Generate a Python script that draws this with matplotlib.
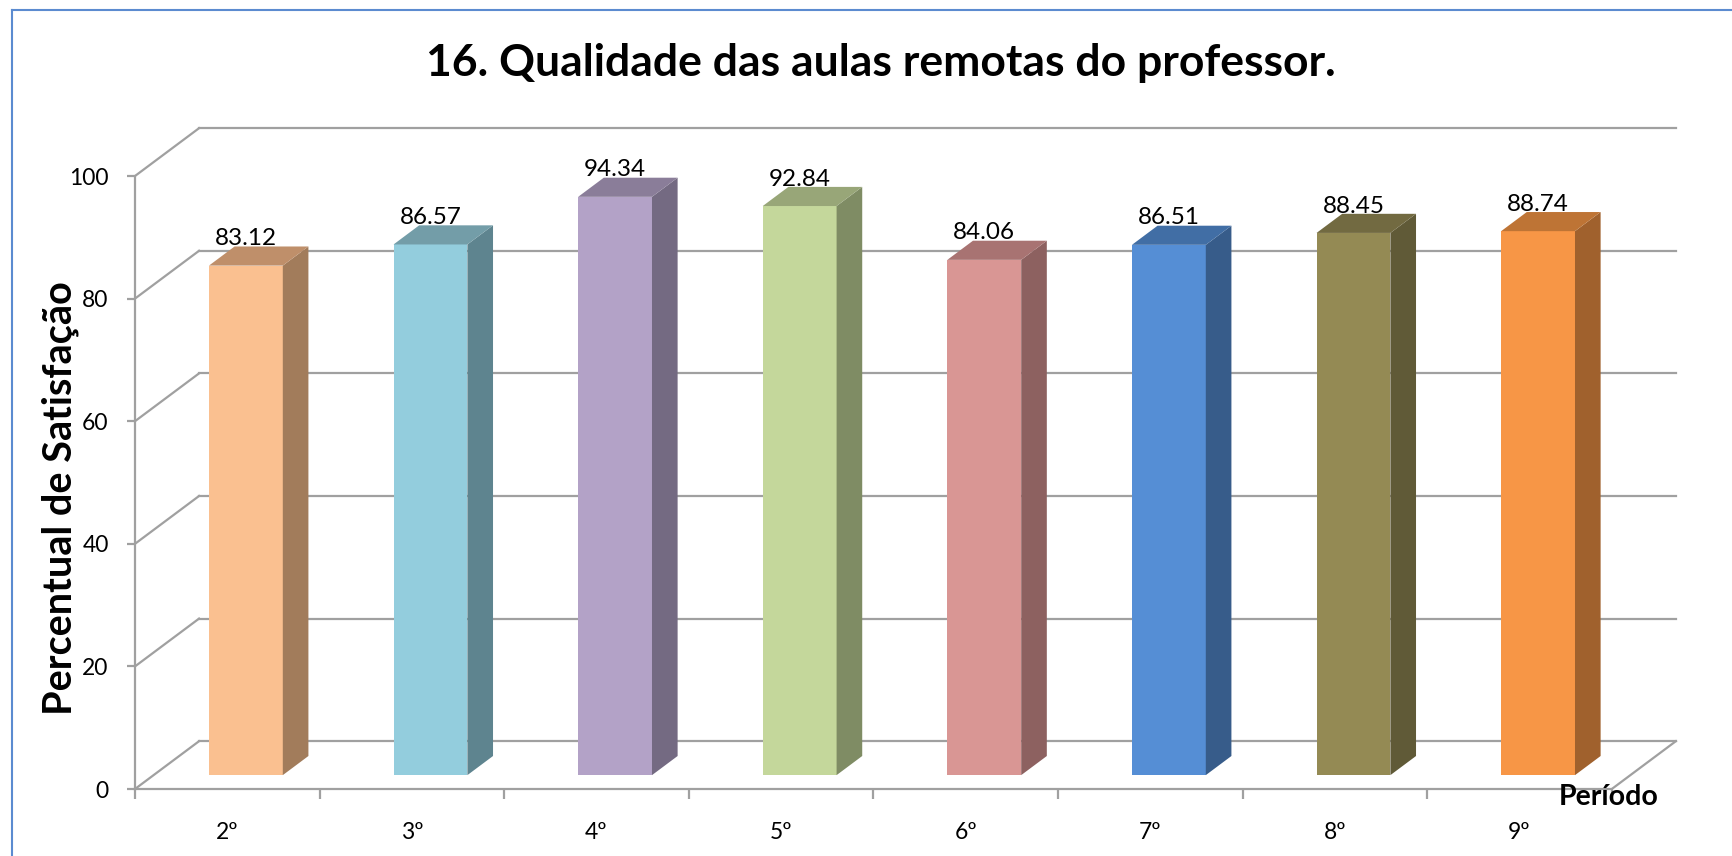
import matplotlib.pyplot as plt
from matplotlib.patches import Polygon, Rectangle
from matplotlib.lines import Line2D

periodos = ["2º", "3º", "4º", "5º", "6º", "7º", "8º", "9º"]
valores = [83.12, 86.57, 94.34, 92.84, 84.06, 86.51, 88.45, 88.74]
cor_frente = ["#FAC090", "#93CDDD", "#B3A2C7", "#C4D79B", "#D99694", "#558ED5", "#948A54", "#F79646"]
cor_lado = ["#A27C5B", "#5E848F", "#746A82", "#7F8C64", "#8D6160", "#375C8A", "#605A37", "#A0612D"]
cor_topo = ["#BF8F6A", "#739DA8", "#8A7D99", "#98A678", "#A87372", "#416EA5", "#726A41", "#BE7435"]
yticks = [0, 20, 40, 60, 80, 100]

plt.rcParams['font.family'] = ['Lato', 'DejaVu Sans']

# deslocamento da profundidade (efeito 3D)
DX = 0.347
DY = 7.8
z0, z1 = 0.29, 0.69   # profundidade das barras
larg = 0.40
cinza = "#A0A0A0"
n = len(periodos)

fig = plt.figure(figsize=(17.33, 8.56), dpi=100)
ax = fig.add_axes([135/1733, 67/856, 8.4*184.6/1733, 110*6.13/856])
ax.set_xlim(0, 8.4)
ax.set_ylim(0, 110)
ax.set_facecolor('none')

# parede do fundo e parede lateral
for v in yticks:
    ax.add_line(Line2D([DX, n + DX], [v + DY, v + DY], color=cinza, lw=1.6, zorder=1))
    ax.add_line(Line2D([0, DX], [v, v + DY], color=cinza, lw=1.6, zorder=1))
ax.add_line(Line2D([n, n + DX], [0, DY], color=cinza, lw=1.6, zorder=1))

# barras
for i, v in enumerate(valores):
    xl = i + 0.5 - larg/2 + z0*DX
    xr = xl + larg
    yb = z0*DY
    yt = yb + v
    d = z1 - z0
    ax.add_patch(Rectangle((xl, yb), larg, v, facecolor=cor_frente[i], edgecolor='none', zorder=3))
    ax.add_patch(Polygon([(xr, yb), (xr + d*DX, yb + d*DY), (xr + d*DX, yt + d*DY), (xr, yt)],
                         closed=True, facecolor=cor_lado[i], edgecolor='none', zorder=3))
    ax.add_patch(Polygon([(xl, yt), (xr, yt), (xr + d*DX, yt + d*DY), (xl + d*DX, yt + d*DY)],
                         closed=True, facecolor=cor_topo[i], edgecolor='none', zorder=3))
    ax.text((xl + xr)/2, v + z1*DY + 0.2, f"{v:.2f}", ha='center', va='baseline',
            fontsize=17.5, color='black', zorder=5)

# eixos
for s in ['top', 'right']:
    ax.spines[s].set_visible(False)
ax.spines['left'].set_bounds(0, 100)
ax.spines['bottom'].set_bounds(0, n)
for s in ['left', 'bottom']:
    ax.spines[s].set_color(cinza)
    ax.spines[s].set_linewidth(1.6)
ax.set_yticks(yticks)
ax.tick_params(axis='y', length=6, width=1.6, color=cinza, labelsize=16.5, pad=13)
ax.set_xticks(range(n + 1))
ax.set_xticklabels([])
ax.set_xticks([i + 0.5 for i in range(n)], minor=True)
ax.set_xticklabels(periodos, minor=True, fontsize=16.5)
ax.tick_params(axis='x', which='major', length=7, width=1.6, color=cinza)
ax.tick_params(axis='x', which='minor', length=0, pad=24)

ax.set_ylabel("Percentual de Satisfação", fontsize=28.5, fontweight='bold')
ax.yaxis.set_label_coords(-0.036, 0.431)

fig.text(881/1733, 1 - 63/856, "16. Qualidade das aulas remotas do professor.",
         ha='center', va='center', fontsize=32, fontweight='bold')
fig.text(1609/1733, 1 - 797/856, "Período", ha='center', va='center',
         fontsize=20.5, fontweight='bold')

# moldura
fig.add_artist(Line2D([12/1733, 12/1733], [0, 1 - 10/856], color="#5B8BD0", lw=1.5))
fig.add_artist(Line2D([12/1733, 1], [1 - 10/856, 1 - 10/856], color="#5B8BD0", lw=1.5))

fig.savefig("out.png", dpi=100)
